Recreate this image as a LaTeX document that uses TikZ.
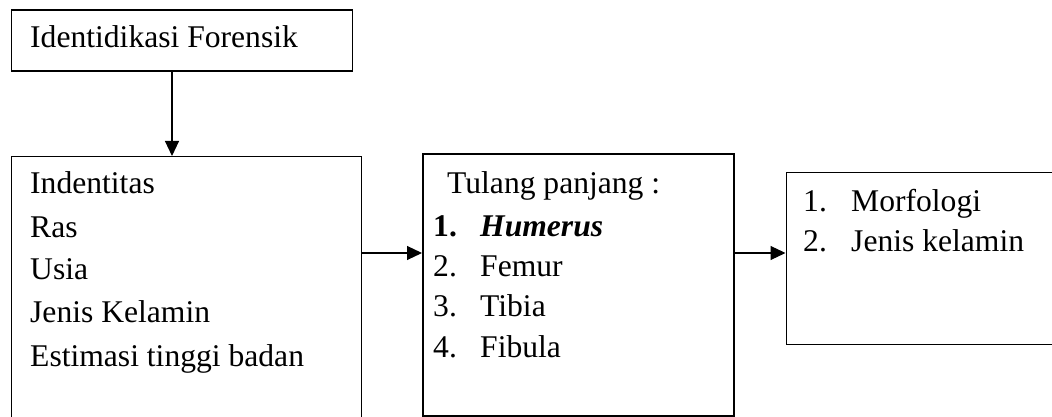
\documentclass[tikz,border=0pt]{standalone}
\usepackage{fontspec}
\setmainfont{Liberation Serif}
\usetikzlibrary{arrows.meta}
\begin{document}
\begin{tikzpicture}[x=1pt,y=1pt,
  box/.style={draw=black,line width=1.1pt,inner sep=0pt},
  thickbox/.style={draw=black,line width=2pt,inner sep=0pt},
  txt/.style={anchor=base west,inner sep=0pt,font=\fontsize{31.6}{36}\selectfont},
  arr/.style={line width=1.1pt,-{Triangle[length=15pt,width=14pt]}}]
\clip (0,0) rectangle (1052,417);
\fill[white] (0,0) rectangle (1052,417);
% boxes
\node[box,minimum width=341pt,minimum height=61pt,anchor=north west] (b1) at (10.5,407.5) {};
\node[box,minimum width=350pt,minimum height=270pt,anchor=north west] (b2) at (10.5,261) {};
\node[thickbox,minimum width=311pt,minimum height=262pt,anchor=north west] (b3) at (422,264) {};
\node[box,minimum width=266pt,minimum height=172pt,anchor=north west] (b4) at (785.5,245) {};
% texts
\node[txt] (t1) at (30,369) {Identidikasi Forensik};
\node[txt] (t2a) at (30,223) {Indentitas};
\node[txt] (t2b) at (30,179) {Ras};
\node[txt] (t2c) at (30,137) {Usia};
\node[txt] (t2d) at (30,94) {Jenis Kelamin};
\node[txt] (t2e) at (30,50) {Estimasi tinggi badan};
\node[txt] (t3h) at (447,223) {Tulang panjang :};
\node[txt] (n1) at (433,180) {\textbf{1.}};
\node[txt] (t3a) at (480,180) {\textbf{\textit{Humerus}}};
\node[txt] (n2) at (433,140) {2.};
\node[txt] (t3b) at (480,140) {Femur};
\node[txt] (n3) at (433,100) {3.};
\node[txt] (t3c) at (480,100) {Tibia};
\node[txt] (n4) at (433,59) {4.};
\node[txt] (t3d) at (480,59) {Fibula};
\node[txt] (m1) at (803,205) {1.};
\node[txt] (t4a) at (851,205) {Morfologi};
\node[txt] (m2) at (803,165) {2.};
\node[txt] (t4b) at (851,165) {Jenis kelamin};
% connectors
\coordinate (ax) at (172,0);
\coordinate (ry) at (0,164);
\draw[arr] (b1.south -| ax) -- (b2.north -| ax);
\draw[arr] (b2.east |- ry) -- (b3.west |- ry);
\draw[arr] (b3.east |- ry) -- (b4.west |- ry);
\end{tikzpicture}
\end{document}
